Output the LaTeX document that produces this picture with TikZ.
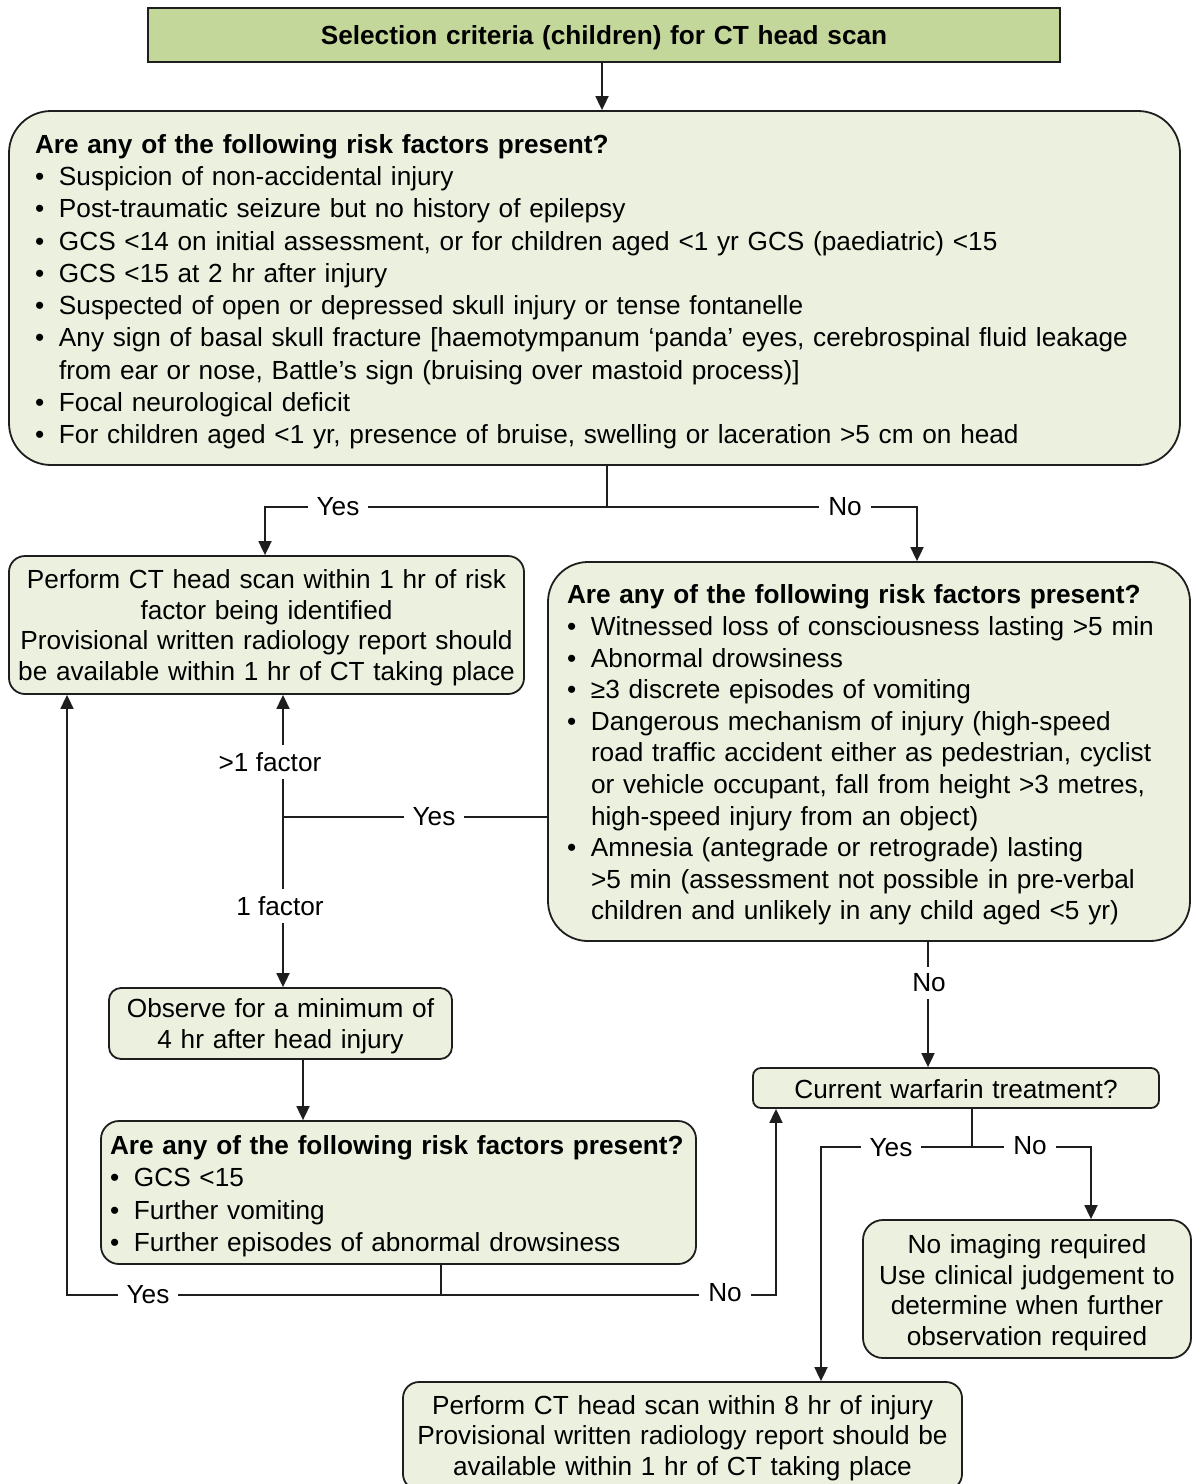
\documentclass[tikz,border=0pt]{standalone}
\usepackage{fontspec}
\setmainfont{Liberation Sans}
\usetikzlibrary{arrows.meta}
\definecolor{titlefill}{HTML}{C4D79B}
\definecolor{boxfill}{HTML}{EBF1DE}
\definecolor{edge}{HTML}{1E1E1E}
\newcommand\bitem[1]{\par\noindent\hangindent=24pt\hangafter=1\makebox[24pt][l]{•}#1\par}
\newcommand\nl{\hfil\break}
% zero-width strut: raises the first line's height to shift the text block down
\newcommand\dn[1]{\rule{0pt}{\dimexpr 0.74em+#1\relax}}
\newcommand\qhead[1]{\noindent\dn{#1}\mbox{\textbf{Are any of the following risk factors present?}}\par}
\begin{document}
\begin{tikzpicture}[x=1pt,y=-1pt,
  base/.style={font=\fontsize{26.2}{32.3}\selectfont},
  box/.style={base, draw=edge, line width=1.8pt, fill=boxfill, inner sep=0pt},
  conn/.style={draw=edge, line width=1.8pt},
  arr/.style={conn, -{Triangle[length=14pt,width=13pt]}},
  lbl/.style={base, fill=white, inner xsep=9pt, inner ysep=3pt},
  vlbl/.style={base, fill=white, inner xsep=2pt, inner ysep=7pt}]
\useasboundingbox (0,0) rectangle (1192,1484);
\clip (0,0) rectangle (1192,1484);
\fill[white] (0,0) rectangle (1192,1484);

% boxes
\node[draw=edge, line width=1.8pt, fill=titlefill, minimum width=912pt, minimum height=54pt, inner sep=0pt,
  text width=900pt, align=center,
  font=\fontsize{26.2}{32.3}\selectfont\bfseries] (title) at (604,35) {\dn{6pt}Selection criteria (children) for CT head scan};

\node[box, rounded corners=42pt, minimum width=1171pt, minimum height=354pt, text width=1119pt, align=left] (b1) at (594.5,288) {%
\qhead{7pt}
\bitem{Suspicion of non-accidental injury}
\bitem{Post-traumatic seizure but no history of epilepsy}
\bitem{GCS <14 on initial assessment, or for children aged <1 yr GCS (paediatric) <15}
\bitem{GCS <15 at 2 hr after injury}
\bitem{Suspected of open or depressed skull injury or tense fontanelle}
\bitem{Any sign of basal skull fracture [haemotympanum ‘panda’ eyes, cerebrospinal fluid leakage\nl from ear or nose, Battle’s sign (bruising over mastoid process)]}
\bitem{Focal neurological deficit}
\bitem{For children aged <1 yr, presence of bruise, swelling or laceration >5 cm on head}};

\node[box, rounded corners=16pt, minimum width=515pt, minimum height=138pt, text width=510pt, align=center,
  font=\fontsize{26.2}{30.7}\selectfont] (b2) at (266.5,625) {%
\dn{5pt}Perform CT head scan within 1 hr of risk\\factor being identified\\Provisional written radiology report should\\be available within 1 hr of CT taking place};

\node[box, rounded corners=40pt, minimum width=642pt, minimum height=379pt, text width=604pt, align=left,
  font=\fontsize{26.2}{31.6}\selectfont] (b3) at (869,751.5) {%
\qhead{7pt}
\bitem{Witnessed loss of consciousness lasting >5 min}
\bitem{Abnormal drowsiness}
\bitem{≥3 discrete episodes of vomiting}
\bitem{Dangerous mechanism of injury (high-speed\nl road traffic accident either as pedestrian, cyclist\nl or vehicle occupant, fall from height >3 metres,\nl high-speed injury from an object)}
\bitem{Amnesia (antegrade or retrograde) lasting\nl >5 min (assessment not possible in pre-verbal\nl children and unlikely in any child aged <5 yr)}};

\node[box, rounded corners=12pt, minimum width=343pt, minimum height=71pt, text width=335pt, align=center,
  font=\fontsize{26.2}{31}\selectfont] (obs) at (280.5,1023.5) {%
\dn{5pt}Observe for a minimum of\\4 hr after head injury};

\node[box, rounded corners=18pt, minimum width=595pt, minimum height=143pt, text width=577pt, align=left,
  font=\fontsize{26.2}{32.5}\selectfont] (b4) at (398.5,1192.5) {%
\qhead{7pt}
\bitem{GCS <15}
\bitem{Further vomiting}
\bitem{Further episodes of abnormal drowsiness}};

\node[box, rounded corners=8pt, minimum width=406pt, minimum height=40pt, text width=400pt, align=center] (warf) at (956,1088) {%
\dn{2pt}Current warfarin treatment?};

\node[box, rounded corners=20pt, minimum width=328pt, minimum height=138pt, text width=322pt, align=center,
  font=\fontsize{26.2}{30.7}\selectfont] (noimg) at (1027,1289) {%
\dn{7pt}No imaging required\\Use clinical judgement to\\determine when further\\observation required};

\node[box, rounded corners=16pt, minimum width=559pt, minimum height=108pt, text width=552pt, align=center,
  font=\fontsize{26.2}{30.5}\selectfont] (bot) at (682.5,1436) {%
\dn{4pt}Perform CT head scan within 8 hr of injury\\Provisional written radiology report should be\\available within 1 hr of CT taking place};

% junction coordinates
\coordinate (c602) at (602,0);
\coordinate (j1) at (607,507);
\coordinate (jl1) at (265,507);
\coordinate (jr1) at (917,507);
\coordinate (j2) at (283,817);
\coordinate (c303) at (303,0);
\coordinate (j3) at (441,1295);
\coordinate (jl3) at (67,1295);
\coordinate (jr3) at (776,1295);
\coordinate (c928) at (928,0);
\coordinate (j4) at (972,1147);
\coordinate (jl4) at (821,1147);
\coordinate (jr4) at (1091,1147);

% connectors
\draw[arr] (title.south -| c602) -- (b1.north -| c602);
\draw[conn] (b1.south -| j1) -- (j1);
\draw[arr] (j1) -- (jl1) -- (jl1 |- b2.north);
\draw[arr] (j1) -- (jr1) -- (jr1 |- b3.north);

\draw[conn] (b3.west |- j2) -- (j2);
\draw[arr] (j2) -- (j2 |- b2.south);
\draw[arr] (j2) -- (j2 |- obs.north);

\draw[arr] (obs.south -| c303) -- (b4.north -| c303);

\draw[conn] (b4.south -| j3) -- (j3);
\draw[arr] (j3) -- (jl3) -- (jl3 |- b2.south);
\draw[arr] (j3) -- (jr3) -- (jr3 |- warf.south);

\draw[arr] (b3.south -| c928) -- (warf.north -| c928);

\draw[conn] (warf.south -| j4) -- (j4);
\draw[arr] (j4) -- (jl4) -- (jl4 |- bot.north);
\draw[arr] (j4) -- (jr4) -- (jr4 |- noimg.north);

% labels
\node[lbl] (yes1) at (338,507) {Yes};
\node[lbl] (no1) at (845,507) {No};
\node[lbl] (yes2) at (434,817) {Yes};
\node[vlbl] (more1) at (270,762) {>1 factor};
\node[vlbl] (one1) at (280,906) {1 factor};
\node[vlbl] (no2) at (929,983) {No};
\node[lbl] (yes3) at (148,1295) {Yes};
\node[lbl] (no3) at (725,1293) {No};
\node[lbl] (yes4) at (891,1148) {Yes};
\node[lbl] (no4) at (1030,1146) {No};
\end{tikzpicture}
\end{document}
